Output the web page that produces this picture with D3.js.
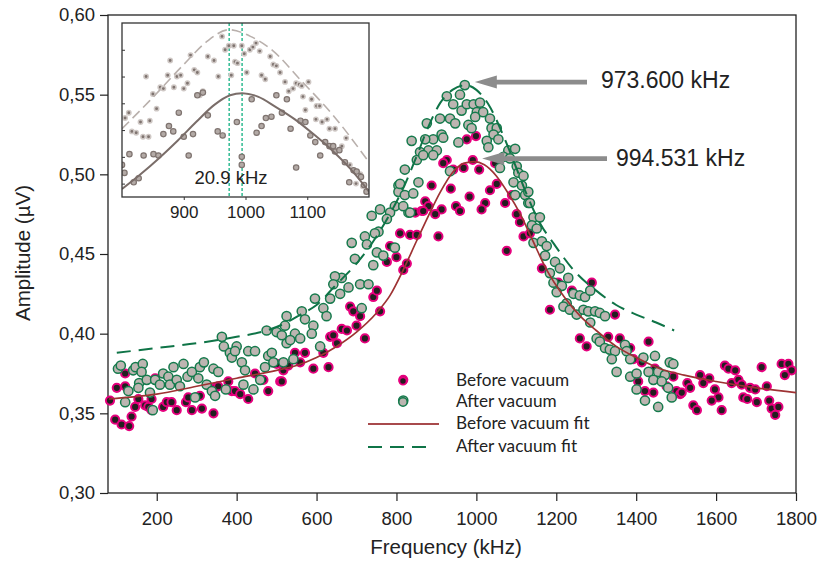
<!DOCTYPE html>
<html><head><meta charset="utf-8">
<script src="https://cdn.jsdelivr.net/npm/d3@7"></script>
<style>body{margin:0;background:#fff}svg{display:block}</style>
</head><body>
<svg id="c" width="839" height="561"></svg>
<script>
// ---------------- DATA ----------------
const xTicks = [200,400,600,800,1000,1200,1400,1600,1800];
const yTicks = [0.30,0.35,0.40,0.45,0.50,0.55,0.60];
const insetXTicks = [900,1000,1100];
const insetYTicks = [0.44,0.46,0.48,0.50,0.52,0.54];
const peakAfter = [973.6, 0.556];
const peakBefore = [994.531, 0.508];
const peakLabels = ["973.600 kHz", "994.531 kHz"];
const insetLabel = "20.9 kHz";
const legendLabels = ["Before vacuum","After vacuum","Before vacuum fit","After vacuum fit"];

const beforeVacuum = [
[83,.358],[96,.346],[100,.366],[112,.343],[131,.342],[137,.348],[146,.354],[154,.359],[121,.367],[121,.375],[171,.355],[179,.354],[187,.352],[187,.359],[196,.372],[216,.354],[225,.357],[237,.357],[250,.352],[273,.357],[279,.360],[288,.352],[308,.361],[313,.353],[342,.350],[346,.366],[354,.367],[379,.370],[388,.364],[396,.364],[409,.362],[429,.359],[446,.375],[467,.371],[479,.364],[500,.381],[509,.370],[517,.377],[529,.380],
[513,.370],[546,.388],[559,.382],[571,.388],[592,.378],[617,.388],[630,.379],[634,.398],[642,.399],[651,.394],[663,.403],[676,.402],[684,.417],[692,.414],[700,.405],[709,.411],[721,.397],[742,.423],[751,.427],[759,.414],[776,.445],[784,.455],[800,.448],[809,.463],[817,.440],[817,.371],[826,.444],[834,.462],[847,.476],[851,.462],[863,.477],[872,.483],
[976,.522],[999,.524],[926,.509],[917,.507],[942,.503],[968,.504],[991,.509],[1007,.503],[1047,.507],[888,.493],[936,.491],[1034,.490],[1051,.494],[983,.486],[1022,.482],[1013,.478],[1072,.482],[1089,.487],[880,.480],[867,.477],[913,.478],[897,.475],[949,.480],[959,.477],[1101,.475],[1109,.470],[905,.461],[1118,.461],[1076,.452],[1164,.441],[1184,.415],
[1134,.463],[1205,.432],[1239,.427],[1289,.432],[1347,.412],[1259,.397],[1276,.392],[1330,.398],[1359,.397],[1385,.391],[1431,.395],[1393,.384],[1414,.382],[1447,.378],[1405,.370],[1422,.364],[1443,.363],[1493,.373],[1501,.364],[1476,.367],[1510,.362],
[1622,.380],[1631,.378],[1648,.377],[1714,.379],[1764,.381],[1781,.381],[1789,.377],[1772,.374],[1560,.374],[1583,.372],[1568,.369],[1528,.369],[1535,.366],[1514,.363],[1597,.365],[1606,.360],[1589,.358],[1639,.369],[1656,.371],[1664,.368],[1685,.366],[1698,.365],[1727,.367],[1668,.360],[1678,.359],[1702,.357],[1733,.358],[1739,.353],[1748,.349],[1756,.354],[1543,.355],[1552,.352],[1614,.352]
];

const afterVacuum = [
[103,.378],[110,.380],[141,.377],[147,.379],[165,.381],[162,.376],[156,.369],[154,.366],[129,.364],[121,.357],[183,.363],[175,.371],[196,.371],[190,.352],[208,.368],[216,.375],[229,.373],[233,.368],[242,.379],[250,.371],[258,.367],[267,.381],[277,.373],[288,.376],[296,.360],[304,.372],[308,.379],[318,.382],[325,.368],[338,.364],[346,.361],[342,.378],[354,.376],[363,.398],[368,.392],[383,.388],[388,.385],[400,.392],[396,.389],[373,.365],[413,.382],[421,.377],[429,.389],[446,.389],[417,.368],[442,.365],[459,.371],[471,.379],[475,.402],[479,.386],[488,.388],[492,.382],[500,.401],[513,.399],[521,.405],[525,.394],[517,.382],
[855,.495],[805,.493],[805,.489],[821,.487],[842,.488],[830,.476],[796,.480],[784,.476],[776,.472],[759,.478],[738,.474],[755,.464],[746,.463],[721,.461],[726,.456],[688,.457],[696,.447],[751,.451],[767,.449],[742,.443],[796,.454],[709,.431],[730,.431],[680,.429],[663,.435],[646,.436],[642,.431],[659,.425],[634,.422],[596,.422],[617,.416],[625,.411],[563,.414],[571,.409],[592,.405],[588,.400],[525,.411],[546,.400],[559,.397],[534,.396],[542,.384],[609,.392],[713,.416],[817,.358],
[971,.556],[959,.550],[926,.549],[942,.544],[963,.540],[976,.544],[993,.544],[1009,.545],[1001,.539],[1017,.539],[997,.536],[1034,.535],[909,.535],[876,.532],[934,.535],[947,.532],[980,.531],[988,.529],[1038,.529],[1051,.529],[1043,.525],[913,.525],[917,.523],[892,.522],[872,.522],[838,.521],[955,.520],[1026,.521],[1055,.522],[1030,.517],[880,.515],[901,.515],[859,.514],[892,.512],[851,.509],[867,.512],[1080,.515],[1097,.516],[1068,.511],[1084,.510],[1059,.504],[1101,.505],[1105,.501],[1118,.499],[1093,.495],[1114,.493],[1122,.487],[1130,.489],[1097,.487],[821,.503],[809,.494],[817,.480],[834,.476],[1130,.482],[1143,.473],[1159,.473],[1139,.468],[1151,.466],[1143,.457],[1164,.458],[1176,.455],[1172,.449],[934,.502],
[1134,.482],[1197,.445],[1209,.441],[1184,.438],[1230,.435],[1193,.432],[1214,.430],[1201,.426],[1243,.425],[1226,.419],[1259,.424],[1272,.423],[1285,.427],[1218,.417],[1234,.415],[1251,.412],[1268,.415],[1280,.414],[1297,.414],[1309,.413],[1322,.411],[1285,.407],[1301,.397],[1309,.395],[1322,.391],[1334,.390],[1347,.389],[1339,.384],[1372,.393],[1376,.389],[1385,.384],[1351,.376],[1385,.373],[1401,.375],[1418,.385],[1431,.376],[1447,.386],[1455,.376],[1472,.374],[1484,.382],[1443,.371],[1464,.370],[1401,.365],[1422,.358],[1455,.354],[1480,.366],[1489,.360],[1493,.381]
];

const beforeFit = [[80,.359],[200,.362],[300,.367],[400,.372],[500,.377],[550,.380],[600,.385],[650,.392],[700,.401],[750,.413],[784,.424],[817,.440],[850,.458],[880,.474],[910,.489],[940,.501],[970,.507],[994.5,.508],[1020,.506],[1050,.499],[1080,.488],[1110,.475],[1140,.459],[1176,.440],[1220,.423],[1260,.411],[1300,.402],[1350,.392],[1400,.385],[1460,.378],[1520,.374],[1600,.370],[1700,.366],[1800,.363]];

const afterFit = [[100,.388],[200,.391],[300,.394],[400,.398],[475,.402],[525,.407],[560,.412],[600,.418],[650,.431],[700,.444],[750,.461],[790,.478],[820,.493],[850,.511],[880,.530],[910,.545],[940,.553],[973.6,.556],[1000,.553],[1030,.544],[1068,.524],[1100,.504],[1130,.485],[1160,.469],[1195,.456],[1243,.440],[1300,.427],[1350,.418],[1400,.412],[1450,.407],[1495,.402]];

const insetUpper = [[805,.489],[811,.493],[816,.479],[823,.478],[830,.486],[834,.475],[843,.475],[839,.520],[845,.487],[850,.507],[856,.496],[862,.512],[867,.511],[878,.532],[874,.521],[884,.512],[889,.520],[895,.521],[900,.511],[906,.515],[911,.536],[917,.525],[922,.523],[926,.506],[931,.509],[939,.535],[949,.532],[956,.520],[962,.550],[967,.540],[973,.543],[977,.521],[981,.543],[983,.531],[987,.530],[994,.543],[998,.537],[1002,.523],[1007,.540],[1012,.542],[1017,.545],[1023,.539],[1026,.521],[1032,.518],[1040,.535],[1045,.529],[1050,.528],[1056,.523],[1064,.516],[1070,.509],[1077,.511],[1082,.515],[1087,.514],[1091,.513],[1102,.516],[1093,.505],[1097,.495],[1107,.503],[1115,.498],[1120,.498],[1114,.488],[1124,.486],[1132,.488],[1136,.481],[1145,.481],[1156,.468],[1163,.474],[1169,.454],[1177,.449],[1186,.447],[1179,.440],[1190,.438]];

const insetLower = [[800,.454],[804,.448],[812,.462],[819,.441],[827,.444],[835,.461],[851,.462],[859,.461],[867,.477],[876,.483],[883,.479],[892,.493],[900,.475],[908,.461],[915,.477],[922,.506],[931,.508],[939,.491],[955,.479],[963,.476],[986,.486],[994,.460],[994,.454],[1010,.503],[1018,.478],[1026,.483],[1033,.489],[1042,.490],[1050,.506],[1059,.493],[1067,.503],[1073,.481],[1082,.452],[1089,.487],[1097,.486],[1105,.476],[1113,.471],[1121,.461],[1129,.471],[1136,.468],[1142,.468],[1145,.464],[1152,.465],[1161,.456],[1168,.441],[1175,.450],[1180,.449],[1187,.445],[1192,.439],[1196,.434]];

const insetFitSolid = [[800,.436],[830,.447],[860,.459],[890,.472],[920,.486],[950,.499],[975,.506],[994.5,.5076],[1020,.505],[1050,.497],[1080,.488],[1110,.477],[1140,.465],[1170,.451],[1200,.434]];
const insetFitDashed = [[800,.481],[845,.502],[900,.529],[937,.546],[973.6,.555],[1008,.550],[1045,.539],[1088,.518],[1142,.491],[1200,.456]];

// ---------------- DRAW ----------------
const svg = d3.select('#c');
const FONT = 'Liberation Sans, Arial, Helvetica, sans-serif';
const x = d3.scaleLinear().domain([78,1800]).range([108,796]);
const y = d3.scaleLinear().domain([0.30,0.60]).range([493,15]);
const loc = d3.formatLocale({decimal:",", thousands:".", grouping:[3], currency:["",""]});
const fmt = loc.format(".2f");

const C = {
  bFill:'#231f20', bStroke:'#e6007e',
  aFill:'#bdb5b1', aStroke:'#157a4c',
  red:'#9e3233', green:'#0f7447', arrow:'#8c8c8c'
};

// axes
const gx = svg.append('g').attr('transform','translate(0,493)')
  .call(d3.axisBottom(x).tickValues(xTicks).tickSize(8).tickPadding(11).tickFormat(d3.format('d')));
gx.select('.domain').remove();
gx.selectAll('line').attr('stroke','#222').attr('stroke-width',1.2);
gx.selectAll('text').attr('font-family',FONT).attr('font-size',18.5).attr('fill','#222');

const gy = svg.append('g').attr('transform','translate(108,0)')
  .call(d3.axisLeft(y).tickValues(yTicks).tickSize(8).tickPadding(5).tickFormat(fmt));
gy.select('.domain').remove();
gy.selectAll('line').attr('stroke','#222').attr('stroke-width',1.2);
gy.selectAll('text').attr('font-family',FONT).attr('font-size',18.5).attr('fill','#222');

svg.append('rect').attr('x',108).attr('y',15).attr('width',688).attr('height',478)
  .attr('fill','none').attr('stroke','#222').attr('stroke-width',1.3);

svg.append('text').attr('x',446).attr('y',554).attr('text-anchor','middle')
  .attr('font-family',FONT).attr('font-size',20.5).attr('fill','#222').text('Frequency (kHz)');
svg.append('text').attr('transform','translate(30,253) rotate(-90)').attr('text-anchor','middle')
  .attr('font-family',FONT).attr('font-size',20.5).attr('fill','#222').text('Amplitude (\u00b5V)');

// points
svg.append('g').selectAll('circle').data(beforeVacuum).join('circle')
  .attr('cx',d=>x(d[0])).attr('cy',d=>y(d[1])).attr('r',4.1)
  .attr('fill',C.bFill).attr('stroke',C.bStroke).attr('stroke-width',2);
svg.append('g').selectAll('circle').data(afterVacuum).join('circle')
  .attr('cx',d=>x(d[0])).attr('cy',d=>y(d[1])).attr('r',4.6)
  .attr('fill',C.aFill).attr('stroke',C.aStroke).attr('stroke-width',1.5);

// fits
const line = d3.line().x(d=>x(d[0])).y(d=>y(d[1])).curve(d3.curveMonotoneX);
svg.append('path').attr('d',line(beforeFit)).attr('fill','none').attr('stroke',C.red).attr('stroke-width',1.7);
svg.append('path').attr('d',line(afterFit)).attr('fill','none').attr('stroke',C.green).attr('stroke-width',2)
  .attr('stroke-dasharray','14,8');

// arrows
function arrow(tipX, tipY, tailX){
  const hl=22, hh=6.5, st=2.4;
  const p=[[tipX,tipY],[tipX+hl,tipY-hh],[tipX+hl,tipY-st],[tailX,tipY-st],[tailX,tipY+st],[tipX+hl,tipY+st],[tipX+hl,tipY+hh]];
  svg.append('path').attr('d','M'+p.map(q=>q.join(',')).join('L')+'Z').attr('fill',C.arrow);
}
arrow(x(peakAfter[0])+9, y(peakAfter[1])-3, 587);
arrow(x(peakBefore[0])+8, y(peakBefore[1])-3, 607);
svg.append('text').attr('x',601).attr('y',88).attr('font-family',FONT).attr('font-size',23).attr('fill','#222').text(peakLabels[0]);
svg.append('text').attr('x',616).attr('y',166).attr('font-family',FONT).attr('font-size',23).attr('fill','#222').text(peakLabels[1]);

// legend
const LF = 'Lato, Open Sans, sans-serif';
const lg = svg.append('g');
lg.append('circle').attr('cx',403).attr('cy',381).attr('r',3.6).attr('fill',C.bFill).attr('stroke',C.bStroke).attr('stroke-width',1.8);
lg.append('circle').attr('cx',403).attr('cy',402).attr('r',4.2).attr('fill',C.aFill).attr('stroke',C.aStroke).attr('stroke-width',1.5);
lg.append('line').attr('x1',368).attr('x2',439).attr('y1',424).attr('y2',424).attr('stroke','#a84a4c').attr('stroke-width',1.8);
lg.append('line').attr('x1',368).attr('x2',433).attr('y1',447).attr('y2',447).attr('stroke',C.green).attr('stroke-width',1.8).attr('stroke-dasharray','14,8');
[386,407,429,452].forEach((yy,i)=>{
  lg.append('text').attr('x',456).attr('y',yy).attr('font-family',LF).attr('font-size',17.2).attr('fill','#222').text(legendLabels[i]);
});

// inset
const ix = d3.scaleLinear().domain([800,1200]).range([122,369]);
const iy = d3.scaleLinear().domain([0.43,0.56]).range([197,23]);
const ig = svg.append('g');
ig.append('rect').attr('x',122).attr('y',23).attr('width',247).attr('height',174).attr('fill','#fff');
svg.append('clipPath').attr('id','ic').append('rect').attr('x',122).attr('y',23).attr('width',247).attr('height',174);
const igc = ig.append('g').attr('clip-path','url(#ic)');
[973.6, 994.5].forEach(f=>{
  igc.append('line').attr('x1',ix(f)).attr('x2',ix(f)).attr('y1',23).attr('y2',197)
    .attr('stroke','#3dbf99').attr('stroke-width',1.6).attr('stroke-dasharray','3,2');
});
igc.selectAll('.iu').data(insetUpper).join('circle').attr('class','iu')
  .attr('cx',d=>ix(d[0])).attr('cy',d=>iy(d[1])).attr('r',2.2)
  .attr('fill','#7f7470').attr('stroke','#cfc8c5').attr('stroke-width',1.5);
igc.selectAll('.il').data(insetLower).join('circle').attr('class','il')
  .attr('cx',d=>ix(d[0])).attr('cy',d=>iy(d[1])).attr('r',2.7)
  .attr('fill','#b3aaa6').attr('stroke','#7f7470').attr('stroke-width',1.2);
const iline = d3.line().x(d=>ix(d[0])).y(d=>iy(d[1])).curve(d3.curveMonotoneX);
igc.append('path').attr('d',iline(insetFitDashed)).attr('fill','none').attr('stroke','#b9b0ac').attr('stroke-width',1.6).attr('stroke-dasharray','10,5');
igc.append('path').attr('d',iline(insetFitSolid)).attr('fill','none').attr('stroke','#7a6d69').attr('stroke-width',2);
ig.append('text').attr('x',231).attr('y',184).attr('text-anchor','middle').attr('font-family',FONT).attr('font-size',18.5).attr('fill','#222').text(insetLabel);
const igx = ig.append('g').attr('transform','translate(0,197)')
  .call(d3.axisBottom(ix).tickValues(insetXTicks).tickSize(3).tickPadding(6).tickFormat(d3.format('d')));
igx.select('.domain').remove();
igx.selectAll('line').attr('stroke','#333');
igx.selectAll('text').attr('font-family',FONT).attr('font-size',17).attr('fill','#222');
const igy = ig.append('g').attr('transform','translate(122,0)')
  .call(d3.axisLeft(iy).tickValues(insetYTicks).tickSize(-3).tickFormat(''));
igy.select('.domain').remove();
igy.selectAll('line').attr('stroke','#333');
ig.append('rect').attr('x',122).attr('y',23).attr('width',247).attr('height',174)
  .attr('fill','none').attr('stroke','#333').attr('stroke-width',1.3);
</script>
</body></html>
